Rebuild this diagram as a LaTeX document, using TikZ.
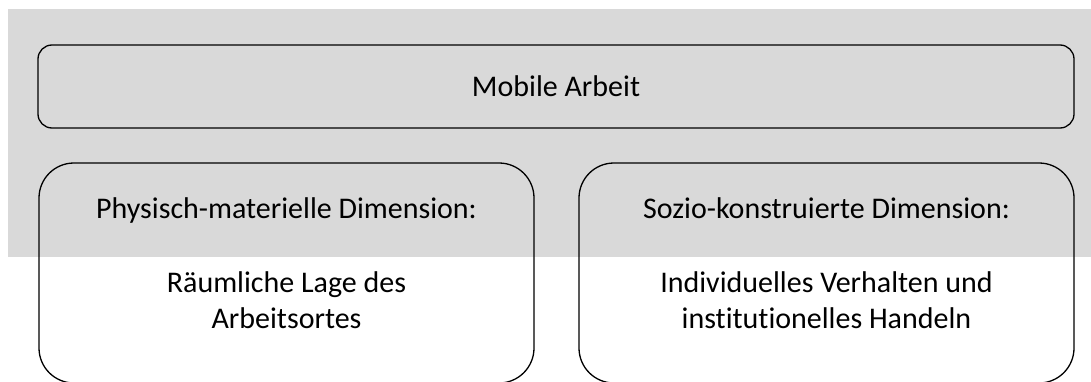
\documentclass[tikz,border=0pt]{standalone}
\usepackage{fontspec}
\setmainfont{Carlito}[Ligatures={NoCommon}]
\definecolor{bggray}{HTML}{D9D9D9}
\begin{document}
\begin{tikzpicture}[x=1pt,y=1pt,
  boxtop/.style={draw=black,line width=1.3pt,rounded corners=14pt,minimum width=1036pt,minimum height=83pt,inner sep=0pt,outer sep=0pt},
  boxdim/.style={draw=black,line width=1.3pt,rounded corners=35pt,minimum width=495pt,minimum height=220pt,inner sep=0pt,outer sep=0pt},
  lbl/.style={anchor=base,inner sep=0pt,font=\fontsize{30}{36}\selectfont}]
\useasboundingbox (0,0) rectangle (1091,381);
\clip (0,0) rectangle (1091,381);
\fill[bggray] (8,124) rectangle (1091,372);
\node[boxtop] (top) at (556,294.5) {};
\node[boxdim] (left) at (286.5,108) {};
\node[boxdim] (right) at (826.5,108) {};
\node[lbl] (ttop) at (556,284) {Mobile Arbeit};
\node[lbl] (lh) at (286.5,163) {Physisch-materielle Dimension:};
\node[lbl] (l1) at (286.5,89) {Räumliche Lage des};
\node[lbl] (l2) at (286.5,53) {Arbeitsortes};
\node[lbl] (rh) at (826.5,163) {Sozio-konstruierte Dimension:};
\node[lbl] (r1) at (826.5,89) {Individuelles Verhalten und};
\node[lbl] (r2) at (826.5,53) {institutionelles Handeln};
\end{tikzpicture}
\end{document}
